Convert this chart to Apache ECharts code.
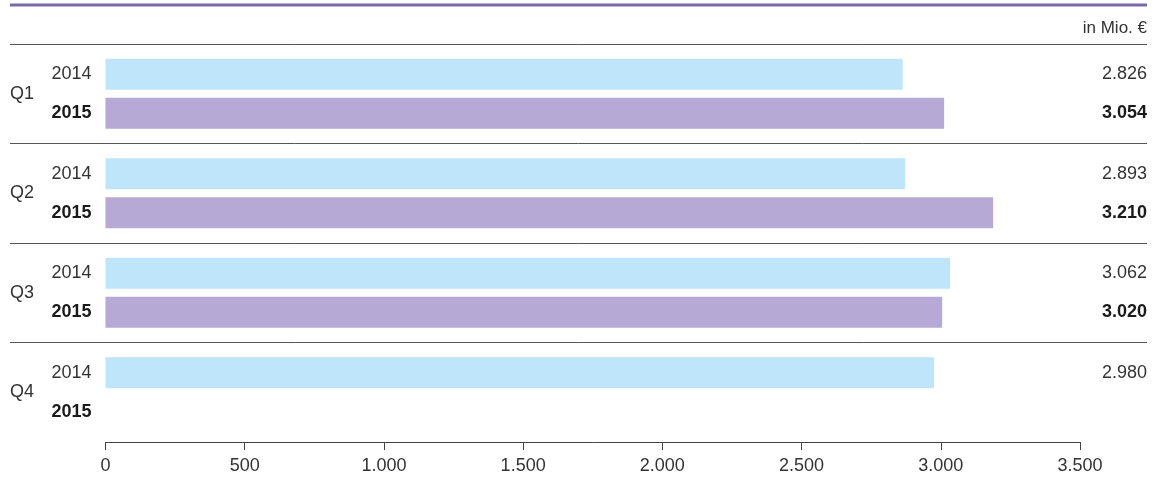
<!DOCTYPE html>
<html>
<head>
<meta charset="utf-8">
<script src="https://cdn.jsdelivr.net/npm/echarts@6/dist/echarts.min.js"></script>
<style>html,body{margin:0;padding:0;background:#fff;}#c{width:1153px;height:481px;}</style>
</head>
<body>
<div id="c"></div>
<script>
const quarters = ['Q1', 'Q2', 'Q3', 'Q4'];
const years = ['2014', '2015'];
// bar lengths as drawn in the picture
const bars2014 = [2863, 2872, 3033, 2976];
const bars2015 = [3012, 3188, 3005, null];
// value labels as printed on the right
const labels2014 = ['2.826', '2.893', '3.062', '2.980'];
const labels2015 = ['3.054', '3.210', '3.020', ''];
const xMin = 0, xMax = 3500, xStep = 500;
const unitText = 'in Mio. €';

const FONT = 'Liberation Sans';
const FS = 18;
const fmt = v => String(v).replace(/\B(?=(\d{3})+(?!\d))/g, '.');

const chart = echarts.init(document.getElementById('c'), null, {renderer: 'canvas'});
chart.setOption({
  animation: false,
  textStyle: {fontFamily: FONT},
  title: {
    text: unitText, right: 1, top: 15,
    textStyle: {fontFamily: FONT, fontSize: 17, fontWeight: 'normal', color: '#333'}
  },
  graphic: [{
    type: 'line', shape: {x1: 10, y1: 5, x2: 1147, y2: 5},
    style: {stroke: '#7b68a8', lineWidth: 3}
  }],
  grid: [
    {left: 105.5, right: 73, top: 44, height: 398},   // bars
    {left: 10, right: 6, top: 44, height: 298.5},     // separators
    {left: 10, right: 6, top: 44, height: 398}        // side labels
  ],
  xAxis: [
    {
      gridIndex: 0, type: 'value', min: xMin, max: xMax, interval: xStep,
      axisLine: {show: true, lineStyle: {color: '#444', width: 1}},
      axisTick: {show: true, length: 8, lineStyle: {color: '#444'}},
      splitLine: {show: false},
      axisLabel: {fontFamily: FONT, fontSize: FS, color: '#333', margin: 15, formatter: fmt}
    },
    {gridIndex: 1, type: 'value', min: 0, max: 1, show: false},
    {gridIndex: 2, type: 'value', min: 0, max: 1, show: false}
  ],
  yAxis: [
    {
      gridIndex: 0, type: 'category', data: quarters, inverse: true,
      axisLine: {show: false}, axisTick: {show: false},
      axisLabel: {
        margin: 14,
        formatter: () => '{a|' + years[0] + '}\n{b|' + years[1] + '}',
        rich: {
          a: {fontFamily: FONT, fontSize: FS, color: '#333', lineHeight: 39, fontWeight: 'normal'},
          b: {fontFamily: FONT, fontSize: FS, color: '#1a1a1a', lineHeight: 39, fontWeight: 'bold'}
        }
      }
    },
    {
      gridIndex: 1, type: 'value', min: 0, max: 3, interval: 1, inverse: true,
      axisLine: {show: false}, axisTick: {show: false}, axisLabel: {show: false},
      splitLine: {show: true, lineStyle: {color: '#555', width: 1}}
    },
    {
      gridIndex: 2, type: 'category', data: quarters, inverse: true, position: 'left',
      axisLine: {show: false}, axisTick: {show: false}, splitLine: {show: false},
      axisLabel: {inside: true, margin: 0, fontFamily: FONT, fontSize: FS, color: '#333'}
    },
    {
      gridIndex: 2, type: 'category', data: quarters, inverse: true, position: 'right',
      axisLine: {show: false}, axisTick: {show: false}, splitLine: {show: false},
      axisLabel: {
        inside: true, margin: 0,
        formatter: (v, i) => '{a|' + labels2014[i] + '}\n{b|' + (labels2015[i] || ' ') + '}',
        rich: {
          a: {fontFamily: FONT, fontSize: FS, color: '#333', lineHeight: 39, fontWeight: 'normal', align: 'right'},
          b: {fontFamily: FONT, fontSize: FS, color: '#1a1a1a', lineHeight: 39, fontWeight: 'bold', align: 'right'}
        }
      }
    }
  ],
  series: [
    {
      name: years[0], type: 'bar', xAxisIndex: 0, yAxisIndex: 0, data: bars2014,
      barWidth: 31, barGap: '26%', itemStyle: {color: '#bee5fa'}
    },
    {
      name: years[1], type: 'bar', xAxisIndex: 0, yAxisIndex: 0, data: bars2015,
      barWidth: 31, barGap: '26%', itemStyle: {color: '#b6a9d5'}
    }
  ]
});
</script>
</body>
</html>
